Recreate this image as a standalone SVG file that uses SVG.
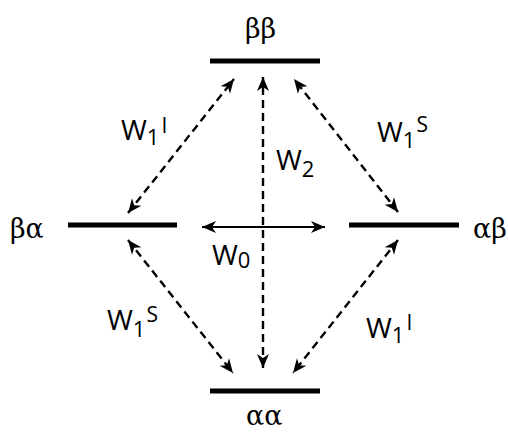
<svg xmlns="http://www.w3.org/2000/svg" width="508" height="437" viewBox="0 0 508 437">
<style>
.bar{stroke:#000;stroke-width:5;fill:none}
.dash{stroke:#000;stroke-width:2.4;stroke-dasharray:8,5;fill:none}
.solid{stroke:#000;stroke-width:2;fill:none}
.lbl{font-family:"Open Sans","Liberation Sans",sans-serif;font-size:28px;fill:#000}
.sub{font-size:22px}
.sup{font-size:21px}
.gr{font-family:"DejaVu Serif","Liberation Serif",serif;font-size:27px;fill:#000}
</style>
<defs>
<marker id="ah" markerUnits="userSpaceOnUse" markerWidth="18" markerHeight="16" viewBox="-16 -8 18 16" refX="0" refY="0" orient="auto-start-reverse">
<path d="M-14,-6 L0,0 L-14,6 L-10,0 Z" fill="#000"/>
</marker>
</defs>
<rect width="508" height="437" fill="#fff"/>
<g id="bb"><line class="bar" x1="210" y1="61" x2="320" y2="61"/><text class="gr" x="245" y="38">ββ</text></g>
<g id="ba"><line class="bar" x1="68" y1="225" x2="177" y2="225"/><text class="gr" x="10" y="238">βα</text></g>
<g id="ab"><line class="bar" x1="349" y1="225" x2="459" y2="225"/><text class="gr" x="473" y="238">αβ</text></g>
<g id="aa"><line class="bar" x1="210" y1="391" x2="320" y2="391"/><text class="gr" x="246" y="425">αα</text></g>
<g id="connectors">
<line class="dash" x1="263" y1="368" x2="263" y2="77" marker-start="url(#ah)" marker-end="url(#ah)"/>
<line class="dash" x1="128" y1="213" x2="234" y2="79" marker-start="url(#ah)" marker-end="url(#ah)"/>
<line class="dash" x1="398" y1="212" x2="294" y2="79" marker-start="url(#ah)" marker-end="url(#ah)"/>
<line class="dash" x1="128" y1="240" x2="233" y2="373" marker-start="url(#ah)" marker-end="url(#ah)"/>
<line class="dash" x1="398" y1="240" x2="293" y2="373" marker-start="url(#ah)" marker-end="url(#ah)"/>
<line class="solid" x1="202" y1="227" x2="325" y2="227" marker-start="url(#ah)" marker-end="url(#ah)"/>
<text class="lbl" x="121" y="140">W<tspan class="sub" dy="5">1</tspan><tspan class="sup" dx="2" dy="-12">I</tspan></text>
<text class="lbl" x="377" y="142">W<tspan class="sub" dy="6">1</tspan><tspan class="sup" dx="1" dy="-16">S</tspan></text>
<text class="lbl" x="276" y="170">W<tspan class="sub" dy="7">2</tspan></text>
<text class="lbl" x="212" y="265">W<tspan class="sub" dy="3">0</tspan></text>
<text class="lbl" x="107" y="330">W<tspan class="sub" dy="7">1</tspan><tspan class="sup" dx="1" dy="-15">S</tspan></text>
<text class="lbl" x="366" y="338">W<tspan class="sub" dy="5">1</tspan><tspan class="sup" dx="2" dy="-13">I</tspan></text>
</g>
</svg>
